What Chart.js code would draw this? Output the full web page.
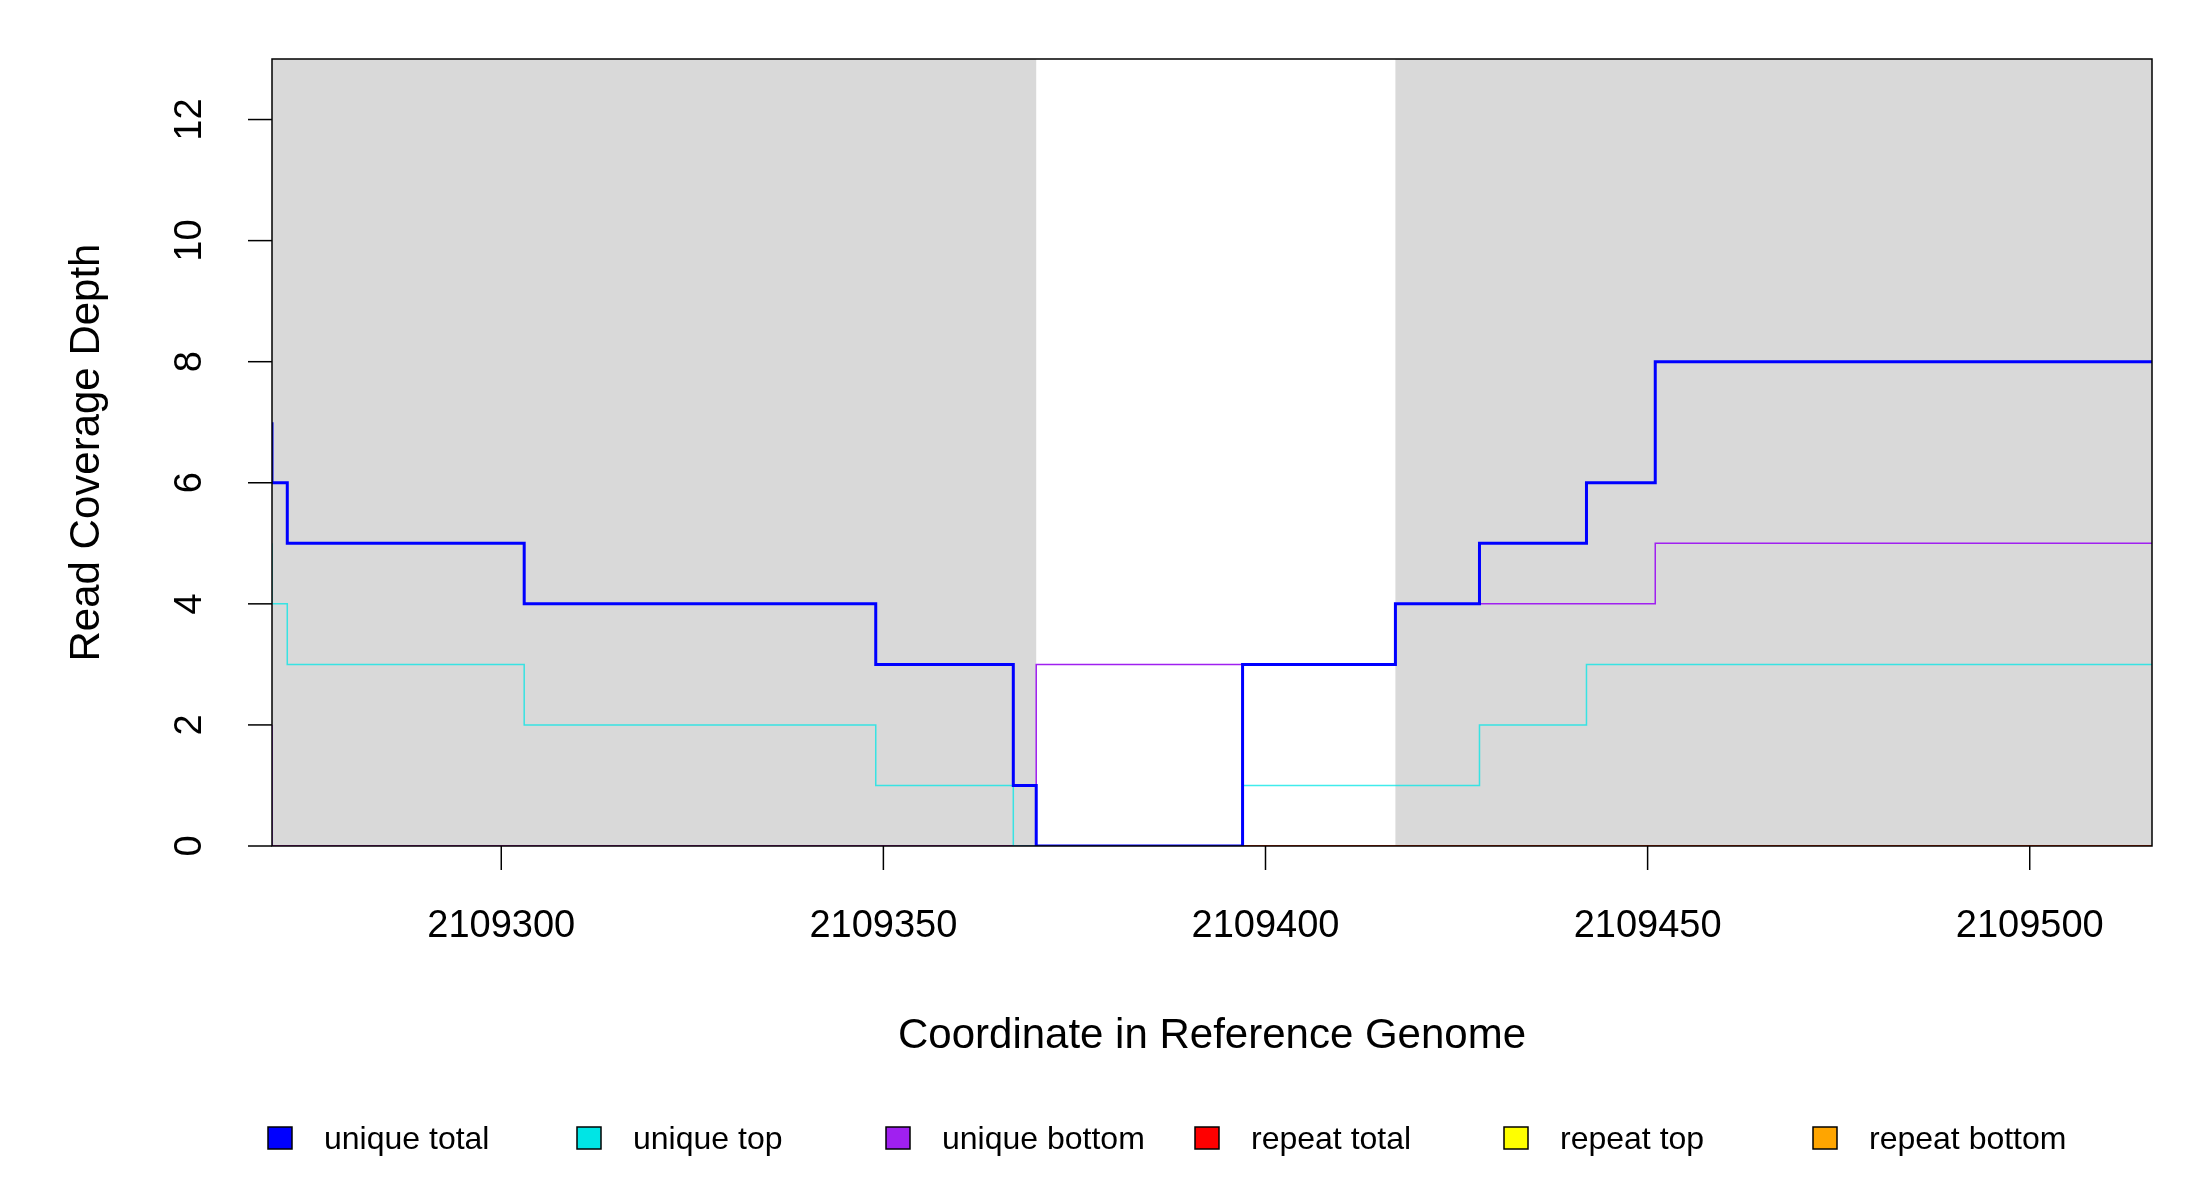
<!DOCTYPE html>
<html><head><meta charset="utf-8">
<script src="https://cdn.jsdelivr.net/npm/chart.js@4"></script>
<style>body{margin:0;background:#fff}#wrap{width:2200px;height:1200px}</style>
</head><body><div id="wrap"><canvas id="c" width="2200" height="1200"></canvas></div>
<script>
// data (step changes: [coordinate, depth])
const xMin = 2109270, xMax = 2109516;
const xTicks = [2109300, 2109350, 2109400, 2109450, 2109500];
const yTicks = [0, 2, 4, 6, 8, 10, 12];
const greyBands = [[2109270, 2109370], [2109417, 2109516]];
const uniqueTotal = [[2109270,7],[2109272,6],[2109303,5],[2109349,4],[2109367,3],[2109370,1],[2109397,0],[2109417,3],[2109428,4],[2109442,5],[2109451,6],[2109463,8],[2109516,8]];
const uniqueTop = [[2109270,5],[2109272,4],[2109303,3],[2109349,2],[2109367,1],[2109397,0],[2109428,1],[2109442,2],[2109463,3],[2109516,3]];
const uniqueBottom = [[2109270,2],[2109370,0],[2109417,3],[2109451,4],[2109463,5],[2109516,5]];
const repeatTotal = [[2109270,0],[2109516,0]];
const repeatTop = [[2109270,0],[2109516,0]];
const repeatBottom = [[2109270,0],[2109516,0]];
const seriesNames = ['unique total','unique top','unique bottom','repeat total','repeat top','repeat bottom'];
const seriesColors = ['#0000ff','#00e5e5','#a020f0','#ff0000','#ffff00','#ffa500'];
const seriesData = [uniqueTotal, uniqueTop, uniqueBottom, repeatTotal, repeatTop, repeatBottom];
const FONT = '"Liberation Sans", Arial, sans-serif';

const datasets = seriesData.map((d, i) => ({
    label: seriesNames[i],
    data: d.map(p => ({x: p[0], y: p[1]})),
    borderColor: seriesColors[i],
    borderWidth: i === 0 ? 3 : 1.5,
    stepped: 'after',
    pointRadius: 0,
    fill: false
}));
// lightening the blue where cyan overlaps in the gap
datasets[1].borderColor = 'rgba(0,229,229,0.75)';

const decor = {
    id: 'decor',
    beforeDatasetsDraw(chart) {
        const {ctx, chartArea: a, scales: {x}} = chart;
        ctx.save();
        ctx.fillStyle = '#d9d9d9';
        greyBands.forEach(b => {
            const l = x.getPixelForValue(b[0]), r = x.getPixelForValue(b[1]);
            ctx.fillRect(l, a.top, r - l, a.bottom - a.top);
        });
        ctx.restore();
    },
    afterDraw(chart) {
        const {ctx, chartArea: a, scales: {x, y}} = chart;
        ctx.save();
        ctx.strokeStyle = '#000'; ctx.lineWidth = 1.5; ctx.fillStyle = '#000';
        ctx.strokeRect(a.left, a.top, a.right - a.left, a.bottom - a.top);
        // x axis
        ctx.font = '38px ' + FONT; ctx.textAlign = 'center'; ctx.textBaseline = 'top';
        xTicks.forEach(t => {
            const px = x.getPixelForValue(t);
            ctx.beginPath(); ctx.moveTo(px, a.bottom); ctx.lineTo(px, a.bottom + 24); ctx.stroke();
            ctx.fillText(String(t), px, a.bottom + 62);
        });
        // y axis
        yTicks.forEach(t => {
            const py = y.getPixelForValue(t);
            ctx.beginPath(); ctx.moveTo(a.left, py); ctx.lineTo(a.left - 24, py); ctx.stroke();
            ctx.save(); ctx.translate(a.left - 62, py); ctx.rotate(-Math.PI / 2);
            ctx.textBaseline = 'bottom'; ctx.fillText(String(t), 0, 0); ctx.restore();
        });
        // titles
        ctx.font = '42px ' + FONT;
        ctx.textBaseline = 'middle';
        ctx.fillText('Coordinate in Reference Genome', (a.left + a.right) / 2, 1036);
        ctx.save(); ctx.translate(87, (a.top + a.bottom) / 2); ctx.rotate(-Math.PI / 2);
        ctx.fillText('Read Coverage Depth', 0, 0); ctx.restore();
        // legend
        ctx.font = '32px ' + FONT; ctx.textAlign = 'left';
        seriesNames.forEach((n, i) => {
            const bx = 268 + i * 309, by = 1138;
            ctx.fillStyle = seriesColors[i];
            ctx.fillRect(bx, by - 11, 24, 22);
            ctx.strokeStyle = '#000'; ctx.lineWidth = 1.5;
            ctx.strokeRect(bx, by - 11, 24, 22);
            ctx.fillStyle = '#000';
            ctx.fillText(n, bx + 56, by + 2);
        });
        ctx.restore();
    }
};

new Chart(document.getElementById('c'), {
    type: 'line',
    data: {datasets},
    options: {
        responsive: false,
        animation: false,
        devicePixelRatio: 1,
        layout: {padding: {left: 272, right: 48, top: 59, bottom: 354}},
        plugins: {legend: {display: false}, tooltip: {enabled: false}},
        scales: {
            x: {type: 'linear', min: xMin, max: xMax, display: false},
            y: {min: 0, max: 13, display: false}
        }
    },
    plugins: [decor]
});
</script></body></html>
